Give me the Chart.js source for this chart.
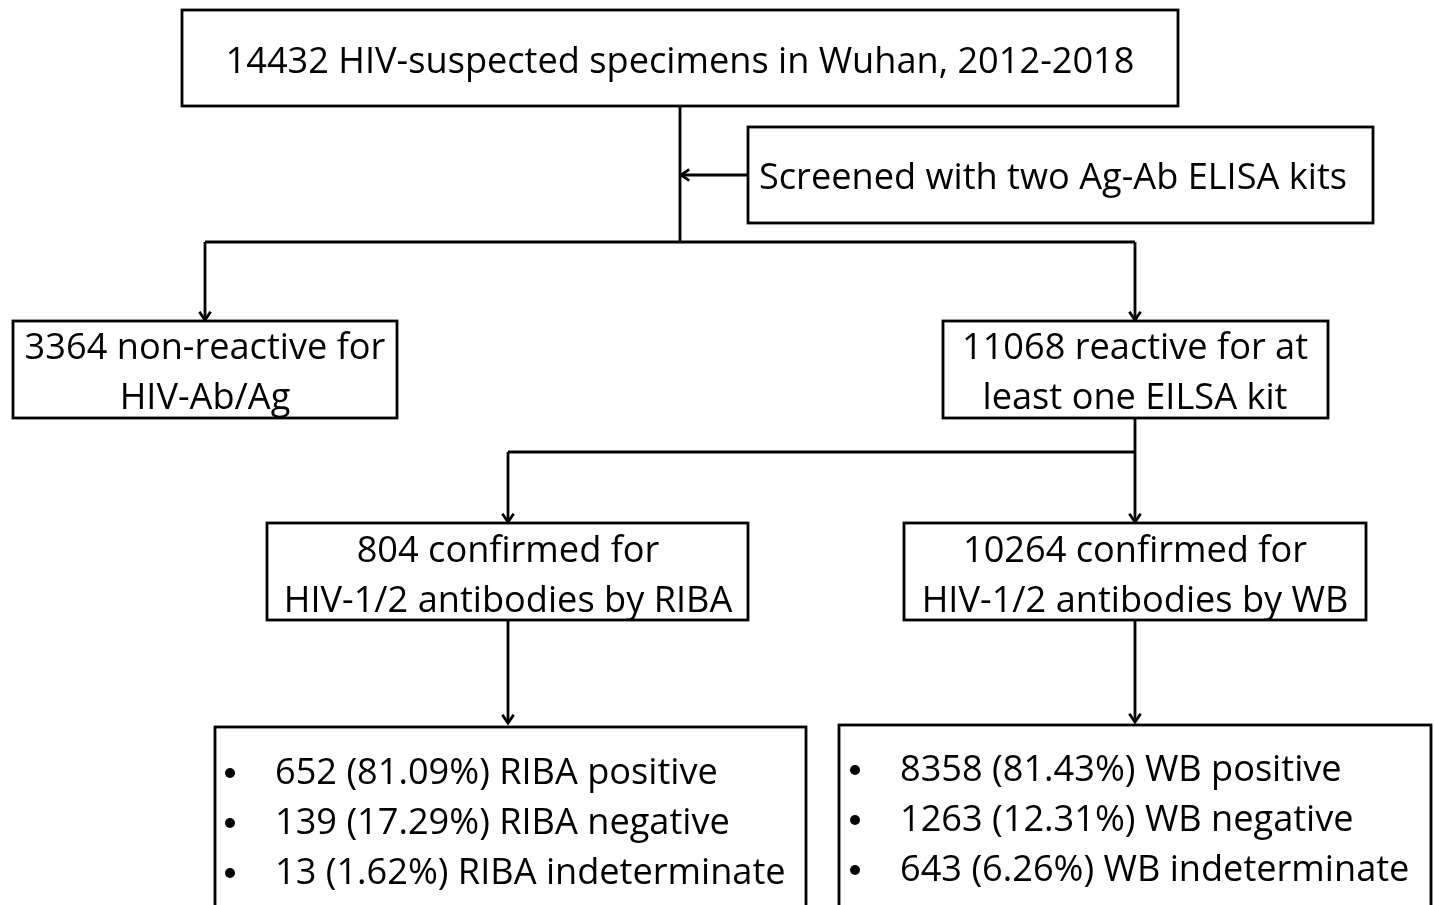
<!DOCTYPE html>
<html>
<head>
<meta charset="utf-8">
<script src="https://cdn.jsdelivr.net/npm/chart.js@4/dist/chart.umd.min.js"></script>
<style>
  html, body { margin: 0; padding: 0; background: #fff; }
  #flow { display: block; }
</style>
</head>
<body>
<canvas id="flow" width="1434" height="905"></canvas>
<script>
// counts
const totalSpecimens = 14432;
const nonReactive = 3364;
const reactive = 11068;
const ribaConfirmed = 804;
const wbConfirmed = 10264;
const ribaResults = [652, 139, 13];
const wbResults = [8358, 1263, 643];
const resultNames = ['positive', 'negative', 'indeterminate'];

const pct = (n, d) => (n / d * 100).toFixed(2) + '%';

// node layout in chart units (x: 0..1434, y: 0..905 top-down)
const nodes = [
  { id: 'top', x0: 182, x1: 1178, y0: 10, y1: 106, cx: 680,
    lines: [totalSpecimens + ' HIV-suspected specimens in Wuhan, 2012-2018'] },
  { id: 'screen', x0: 748, x1: 1373, y0: 127, y1: 223, cx: 1053,
    lines: ['Screened with two Ag-Ab ELISA kits'] },
  { id: 'neg', x0: 13, x1: 397, y0: 321, y1: 418, cx: 205,
    lines: [nonReactive + ' non-reactive for', 'HIV-Ab/Ag'] },
  { id: 'pos', x0: 943, x1: 1328, y0: 321, y1: 418, cx: 1135,
    lines: [reactive + ' reactive for at', 'least one EILSA kit'] },
  { id: 'riba', x0: 267, x1: 748, y0: 523, y1: 620, cx: 508,
    lines: [ribaConfirmed + ' confirmed for', 'HIV-1/2 antibodies by RIBA'] },
  { id: 'wb', x0: 904, x1: 1366, y0: 523, y1: 620, cx: 1135,
    lines: [wbConfirmed + ' confirmed for', 'HIV-1/2 antibodies by WB'] },
  { id: 'ribaRes', x0: 215, x1: 806, y0: 727, y1: 935, bullets: true, bx: 230, tx: 275,
    lines: ribaResults.map((n, i) => n + ' (' + pct(n, ribaConfirmed) + ') RIBA ' + resultNames[i]) },
  { id: 'wbRes', x0: 839, x1: 1431, y0: 725, y1: 935, bullets: true, bx: 855, tx: 900,
    lines: wbResults.map((n, i) => n + ' (' + pct(n, wbConfirmed) + ') WB ' + resultNames[i]) }
];

// first baseline offset from box top and line step
const lineOffset = { top: 63, screen: 62, neg: 38, pos: 38, riba: 39, wb: 39, ribaRes: 57, wbRes: 56 };
const lineStep = 50;

// connectors: [x0, y0, x1, y1, arrow]
const links = [
  [680, 106, 680, 242, false],
  [748, 175, 681, 175, true],
  [205, 242, 1135, 242, false],
  [205, 242, 205, 320, true],
  [1135, 242, 1135, 320, true],
  [1135, 418, 1135, 522, true],
  [508, 452, 1135, 452, false],
  [508, 452, 508, 522, true],
  [508, 620, 508, 723, true],
  [1135, 620, 1135, 722, true]
];

const flowPlugin = {
  id: 'flowDraw',
  afterDraw(chart) {
    const ctx = chart.ctx;
    const sx = chart.scales.x, sy = chart.scales.y;
    const px = v => sx.getPixelForValue(v);
    const py = v => sy.getPixelForValue(v);

    ctx.save();
    ctx.fillStyle = '#fff';
    ctx.fillRect(0, 0, chart.width, chart.height);
    ctx.strokeStyle = '#000';
    ctx.fillStyle = '#000';
    ctx.lineWidth = 2.8;
    ctx.lineCap = 'butt';

    // fit font so the title line matches the original width
    const family = '"Open Sans", "Noto Sans", sans-serif';
    ctx.font = '35px ' + family;
    const w = ctx.measureText(nodes[0].lines[0]).width;
    const size = 35 * 909 / w;
    ctx.font = size.toFixed(2) + 'px ' + family;
    ctx.textBaseline = 'alphabetic';

    nodes.forEach(n => {
      ctx.strokeRect(px(n.x0), py(n.y0), px(n.x1) - px(n.x0), py(n.y1) - py(n.y0));
      n.lines.forEach((t, i) => {
        const y = py(n.y0 + lineOffset[n.id] + i * lineStep);
        if (n.bullets) {
          ctx.textAlign = 'left';
          ctx.beginPath();
          ctx.arc(px(n.bx), y - 11, 5, 0, Math.PI * 2);
          ctx.fill();
          ctx.fillText(t, px(n.tx), y);
        } else {
          ctx.textAlign = 'center';
          ctx.fillText(t, px(n.cx), y);
        }
      });
    });

    links.forEach(([x0, y0, x1, y1, arrow]) => {
      const a = [px(x0), py(y0)], b = [px(x1), py(y1)];
      ctx.beginPath();
      ctx.moveTo(a[0], a[1]);
      ctx.lineTo(b[0], b[1]);
      ctx.stroke();
      if (arrow) {
        const ang = Math.atan2(b[1] - a[1], b[0] - a[0]);
        const L = 10, spread = 0.6;
        ctx.beginPath();
        ctx.moveTo(b[0] - L * Math.cos(ang - spread), b[1] - L * Math.sin(ang - spread));
        ctx.lineTo(b[0], b[1]);
        ctx.lineTo(b[0] - L * Math.cos(ang + spread), b[1] - L * Math.sin(ang + spread));
        ctx.stroke();
      }
    });
    ctx.restore();
  }
};

new Chart(document.getElementById('flow').getContext('2d'), {
  type: 'scatter',
  data: { datasets: [{ data: [], pointRadius: 0 }] },
  options: {
    responsive: false,
    animation: false,
    events: [],
    layout: { padding: 0 },
    plugins: { legend: { display: false }, tooltip: { enabled: false } },
    scales: {
      x: { type: 'linear', min: 0, max: 1434, display: false },
      y: { type: 'linear', min: 0, max: 905, reverse: true, display: false }
    }
  },
  plugins: [flowPlugin]
});
</script>
</body>
</html>
